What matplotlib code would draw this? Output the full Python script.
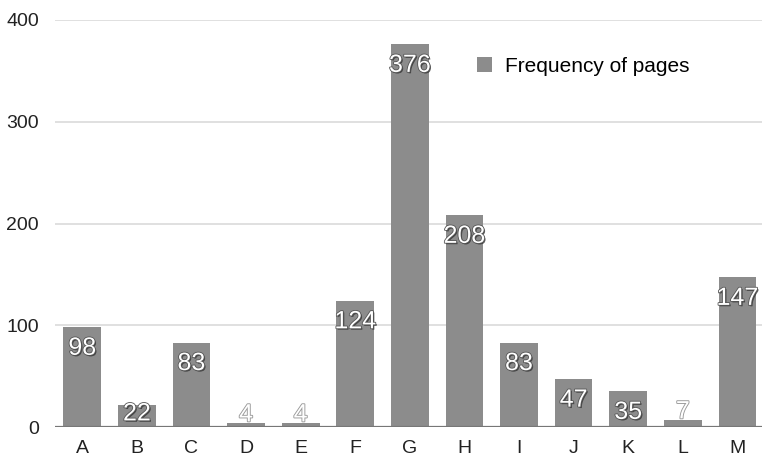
import matplotlib.pyplot as plt
import matplotlib.patheffects as pe
import numpy as np

plt.rcParams['font.family'] = ['Liberation Sans', 'DejaVu Sans']

categories = ['A', 'B', 'C', 'D', 'E', 'F', 'G', 'H', 'I', 'J', 'K', 'L', 'M']
pages = [98, 22, 83, 4, 4, 124, 376, 208, 83, 47, 35, 7, 147]
yticks = [0, 100, 200, 300, 400]

bar_color = '#8c8c8c'

fig = plt.figure(figsize=(7.62, 4.54), dpi=100)
ax = fig.add_axes([55 / 762, 27 / 454, 1 - 55 / 762, (427 - 20) / 454])

x = np.arange(len(categories))
bars = ax.bar(x, pages, width=0.69, color=bar_color, label='Frequency of pages', zorder=2)

ax.set_xlim(-0.5, len(categories) - 0.55)
ax.set_ylim(0, 400)
ax.set_yticks(yticks)
ax.set_xticks(x)
ax.set_xticklabels(categories)
ax.tick_params(axis='both', length=0, labelsize=14, colors='#222222')
ax.tick_params(axis='y', pad=11.5)
ax.tick_params(axis='x', pad=9.5)

for s in ax.spines.values():
    s.set_visible(False)
ax.yaxis.grid(True, color='#dddddd', linewidth=1.3, zorder=0)
ax.set_axisbelow(True)
ax.axhline(0, color='#777777', linewidth=1.6, zorder=3)

# value labels: inside the top of the bar (kept clear of the baseline),
# or just above bars too short to hold them
inside = [pe.withSimplePatchShadow(offset=(1, -1), shadow_rgbFace='#333333', alpha=0.8),
          pe.withStroke(linewidth=1.2, foreground='#555555')]
outside = [pe.withStroke(linewidth=1.3, foreground='#999999')]
for xi, v in zip(x, pages):
    if v >= 15:
        ax.text(xi, max(v - 27, 6.5), str(v), ha='center', va='baseline', fontsize=18,
                color='white', path_effects=inside, zorder=4)
    else:
        ax.text(xi, v + 1.5, str(v), ha='center', va='baseline', fontsize=18,
                color='white', path_effects=outside, zorder=4)

leg = ax.legend(loc='upper left', bbox_to_anchor=(0.597, 0.909), frameon=False,
                fontsize=15, borderpad=0, borderaxespad=0,
                handlelength=0.72, handleheight=0.72, handletextpad=0.63)

fig.savefig('out.png', dpi=100)
